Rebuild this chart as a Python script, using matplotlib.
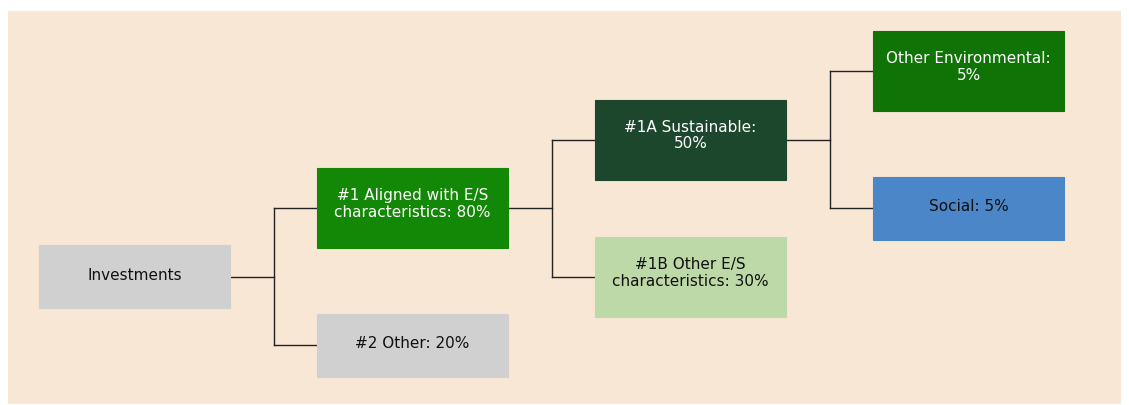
import matplotlib
matplotlib.use("Agg")
import matplotlib.pyplot as plt
from matplotlib.patches import Rectangle

# ---- data ----
node_names = ["Investments", "#1 Aligned with E/S\ncharacteristics", "#2 Other",
              "#1A Sustainable:", "#1B Other E/S\ncharacteristics",
              "Other Environmental:", "Social"]
node_values = [None, 80, 20, 50, 30, 5, 5]
node_parents = [None, 0, 0, 1, 1, 3, 3]
node_colors = ["#D0D0D0", "#138806", "#D0D0D0", "#1D472C", "#BDD9A7", "#107306", "#4A86C8"]
text_colors = ["#111111", "#ffffff", "#111111", "#ffffff", "#111111", "#ffffff", "#111111"]

# ---- layout ----
W, H = 1129, 405
fig = plt.figure(figsize=(W / 100, H / 100), dpi=100)
ax = fig.add_axes([0, 0, 1, 1])
ax.set_xlim(0, W)
ax.set_ylim(H, 0)
ax.axis("off")

ax.add_patch(Rectangle((8, 11), 1113, 393, facecolor="#F9E7D6", edgecolor="none", zorder=0))

n = len(node_names)
depth = [0] * n
row = [0] * n
row[0] = 3
children = {i: [j for j in range(n) if node_parents[j] == i] for i in range(n)}
order = [0]
for i in order:
    for k, c in enumerate(children[i]):
        depth[c] = depth[i] + 1
        row[c] = row[i] - 1 if k == 0 else row[i] + 1
        order.append(c)

col_x0, col_step, box_w = 39, 278, 191
row_y0, row_step = 71, 68.6

def label(i):
    v = node_values[i]
    if v is None:
        return node_names[i]
    if node_names[i].endswith(":"):
        return f"{node_names[i]}\n{v}%"
    return f"{node_names[i]}: {v}%"

def geom(i):
    lab = label(i)
    two = "\n" in lab
    h = 80 if two else 63
    x0 = col_x0 + depth[i] * col_step
    cy = row_y0 + row[i] * row_step
    return x0, cy, h, two

for i in range(n):
    x0, cy, h, two = geom(i)
    top = cy - h / 2
    ax.add_patch(Rectangle((x0, top), box_w, h, facecolor=node_colors[i],
                           edgecolor=node_colors[i], linewidth=0.8, zorder=2))
    ty = top + (36 if two else 30)
    ax.text(x0 + box_w / 2, ty, label(i), ha="center", va="center",
            color=text_colors[i], fontsize=11, family="DejaVu Sans",
            linespacing=1.15, zorder=3)

for i in range(n):
    ch = children[i]
    if not ch:
        continue
    x0, cy, h, two = geom(i)
    xr = x0 + box_w
    xm = xr + 44
    ax.plot([xr, xm], [cy, cy], color="#222222", lw=1, zorder=1)
    ys = [geom(c)[1] for c in ch]
    ax.plot([xm, xm], [min(ys), max(ys)], color="#222222", lw=1, zorder=1)
    for c in ch:
        cx0, ccy, _, _ = geom(c)
        ax.plot([xm, cx0], [ccy, ccy], color="#222222", lw=1, zorder=1)

fig.savefig("out.png", dpi=100, facecolor="white")
